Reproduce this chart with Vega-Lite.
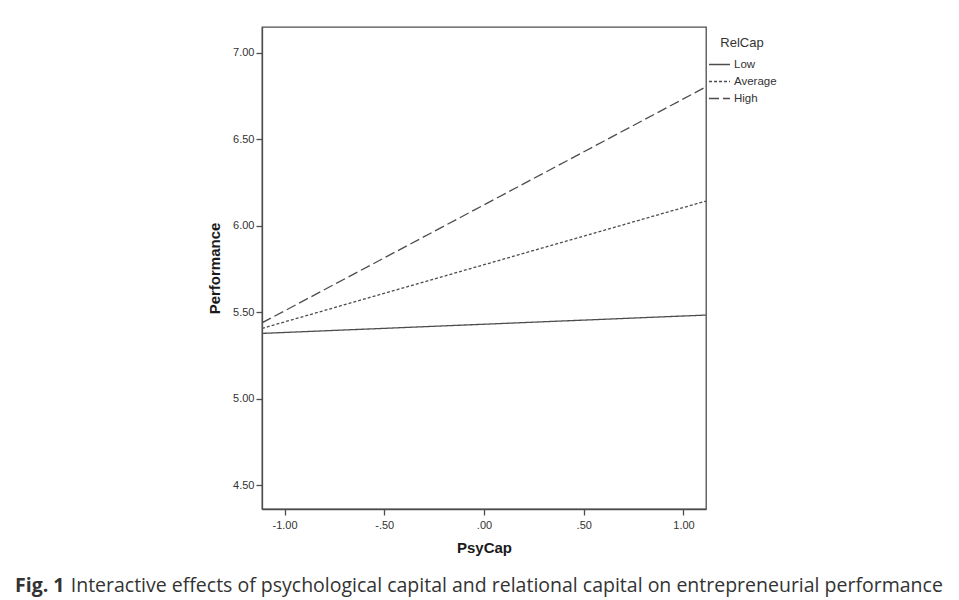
{
  "$schema": "https://vega.github.io/schema/vega-lite/v6.json",
  "width": 444,
  "height": 482,
  "autosize": {"type": "none"},
  "padding": {"left": 262, "top": 27, "right": 253, "bottom": 91},
  "background": "white",
  "title": {
    "text": "Fig. 1",
    "subtitle": "\u200b\u00a0\u00a0\u00a0\u00a0\u00a0\u00a0\u00a0\u00a0\u00a0\u00a0\u00a0Interactive effects of psychological capital and relational capital on entrepreneurial performance",
    "orient": "bottom",
    "anchor": "start",
    "frame": "group",
    "dx": -247,
    "offset": 22,
    "font": "Open Sans",
    "fontSize": 19.5,
    "fontWeight": "bold",
    "color": "#333333",
    "subtitleFont": "Open Sans",
    "subtitleFontSize": 19.5,
    "subtitleFontWeight": "normal",
    "subtitleColor": "#333333",
    "subtitlePadding": -19.5
  },
  "data": {
    "values": [
      {"PsyCap": -1.113, "Performance": 5.378, "RelCap": "Low"},
      {"PsyCap": 1.113, "Performance": 5.484, "RelCap": "Low"},
      {"PsyCap": -1.113, "Performance": 5.407, "RelCap": "Average"},
      {"PsyCap": 1.113, "Performance": 6.143, "RelCap": "Average"},
      {"PsyCap": -1.113, "Performance": 5.439, "RelCap": "High"},
      {"PsyCap": 1.113, "Performance": 6.803, "RelCap": "High"}
    ]
  },
  "mark": {"type": "line", "color": "#4d4d4d", "strokeWidth": 1.3, "clip": true},
  "encoding": {
    "x": {
      "field": "PsyCap",
      "type": "quantitative",
      "title": "PsyCap",
      "scale": {"domain": [-1.113, 1.113], "nice": false, "zero": false},
      "axis": {
        "values": [-1, -0.5, 0, 0.5, 1],
        "labelExpr": "datum.value == 0 ? '.00' : datum.value == -0.5 ? '-.50' : datum.value == 0.5 ? '.50' : datum.value == -1 ? '-1.00' : '1.00'",
        "labelPadding": 4,
        "titlePadding": 10
      }
    },
    "y": {
      "field": "Performance",
      "type": "quantitative",
      "title": "Performance",
      "scale": {"domain": [4.363, 7.149], "nice": false, "zero": false},
      "axis": {
        "values": [4.5, 5, 5.5, 6, 6.5, 7],
        "format": ".2f",
        "labelPadding": 2,
        "titlePadding": 10
      }
    },
    "strokeDash": {
      "field": "RelCap",
      "type": "nominal",
      "title": "RelCap",
      "sort": ["Low", "Average", "High"],
      "scale": {"domain": ["Low", "Average", "High"], "range": [[1, 0], [3, 2], [10, 4]]},
      "legend": {
        "orient": "none",
        "legendX": 446,
        "legendY": 10,
        "titleAnchor": "middle"
      }
    }
  },
  "config": {
    "view": {"stroke": "#4d4d4d", "strokeWidth": 1.3},
    "axis": {
      "grid": false,
      "domainColor": "#4d4d4d",
      "domainWidth": 1.3,
      "tickColor": "#4d4d4d",
      "tickWidth": 1.3,
      "tickSize": 6,
      "labelFont": "Liberation Sans",
      "labelFontSize": 11,
      "labelColor": "#333333",
      "titleFont": "Liberation Sans",
      "titleFontSize": 15,
      "titleFontWeight": "bold",
      "titleColor": "#1a1a1a"
    },
    "legend": {
      "titleFont": "Liberation Sans",
      "titleFontSize": 13,
      "titleFontWeight": "normal",
      "titleColor": "#333333",
      "titlePadding": 3,
      "labelFont": "Liberation Sans",
      "labelFontSize": 11.5,
      "labelColor": "#333333",
      "labelOffset": 3,
      "symbolType": "stroke",
      "symbolSize": 441,
      "symbolStrokeWidth": 1.3,
      "symbolStrokeColor": "#4d4d4d",
      "rowPadding": -8,
      "padding": 0
    }
  }
}
